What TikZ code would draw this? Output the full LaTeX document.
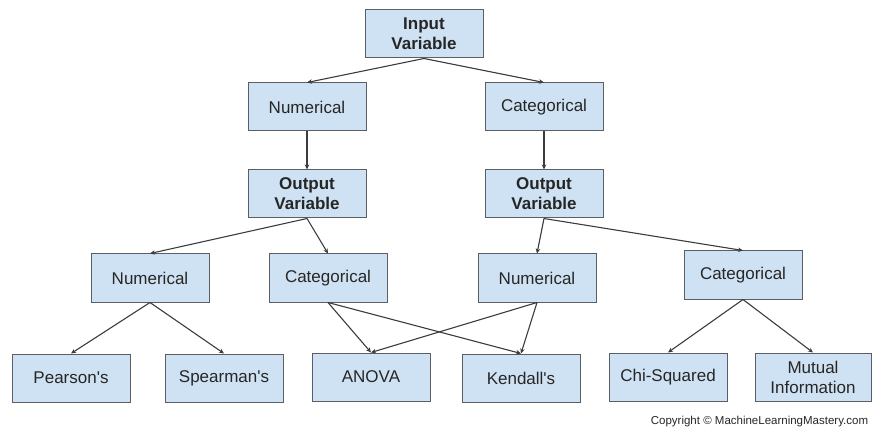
\documentclass[tikz,border=0pt]{standalone}
\usepackage{fontspec}
\setmainfont{Liberation Sans}
\usetikzlibrary{arrows.meta,positioning}

\definecolor{boxfill}{HTML}{CFE2F3}
\definecolor{boxline}{HTML}{5A5F66}
\definecolor{inkgrey}{HTML}{262626}
\definecolor{wiregrey}{HTML}{3C3C3C}

\begin{document}
\begin{tikzpicture}[->,>={Stealth[length=5pt,width=4.5pt]},x=1pt,y=-1pt,
      line width=1.1pt,draw=wiregrey,
      var/.style={draw=boxline,fill=boxfill,line width=1pt,minimum width=118pt,
        minimum height=48pt,align=center,text=inkgrey,
        font=\fontsize{17}{20}\selectfont},
      head/.style={var,font=\fontsize{17}{20}\selectfont\bfseries}]
\useasboundingbox (0,0) rectangle (872,430);
			% top of the tree
			\node[head] (input) at (424,34) {Input\\Variable};
			\node[var] (numA) at (307,107) {Numerical};
			\node[var] (catA) at (544,107) {Categorical};
			\node[head] (outL) [on grid,below=87pt of numA] {Output\\Variable};
			\node[head] (outR) [on grid,below=87pt of catA] {Output\\Variable};
			% output types
			\node[var] (numB) at (150,278) {Numerical};
			\node[var] (catB) at (328,278) {Categorical};
			\node[var] (numC) at (537,278) {Numerical};
			\node[var] (catC) at (743,275) {Categorical};
			% tests
			\node[var] (pearson) at (71,378) {Pearson\textquotesingle s};
			\node[var] (spearman) at (224,378) {Spearman\textquotesingle s};
			\node[var] (anova) at (371,377) {ANOVA};
			\node[var] (kendall) at (521,378) {Kendall\textquotesingle s};
			\node[var] (chisq) at (668,377) {Chi-Squared};
			\node[var,minimum width=116pt] (mutual) at (813,377) {Mutual\\Information};
			\node[anchor=east,text=inkgrey,font=\fontsize{11.5}{13}\selectfont] (copy) at (872,422) {Copyright © MachineLearningMastery.com};
			\path
				(input.south) edge (numA.north)
				(input.south) edge (catA.north)
				(numA.south) edge (outL.north)
				(catA.south) edge (outR.north)
				(outL.south) edge (numB.north)
				(outL.south) edge (catB.north)
				(outR.south) edge (numC.north)
				(outR.south) edge (catC.north)
				(numB.south) edge (pearson.north)
				(numB.south) edge (spearman.north)
				(catB.south) edge (anova.north)
				(catB.south) edge (kendall.north)
				(numC.south) edge (anova.north)
				(numC.south) edge (kendall.north)
				(catC.south) edge (chisq.north)
				(catC.south) edge (mutual.north);
		\end{tikzpicture}
\end{document}
